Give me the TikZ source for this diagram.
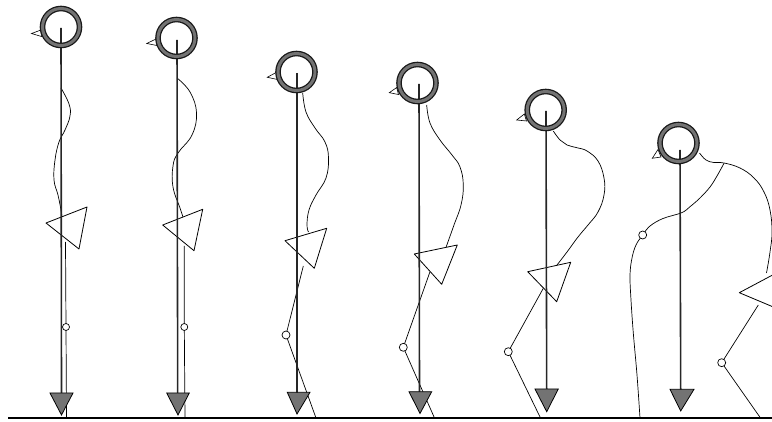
\documentclass[tikz,border=0pt]{standalone}
\usepackage{tikz}

\tikzset{
  gravity/.style={line width=1.6pt, black!85},
  body/.style={line width=0.7pt},
  pelvis/.style={draw, line width=0.8pt, fill=white, line join=round},
  weight/.style={draw, line width=0.8pt, fill=black!55},
  joint/.style={draw, line width=0.7pt, fill=white},
  nose/.style={draw, line width=0.6pt, fill=white},
  skull/.style={draw=black!90, double=black!55, double distance=3pt, line width=1.3pt},
}

\begin{document}
\begin{tikzpicture}[x=1pt, y=-1pt]
    \useasboundingbox (0,0) rectangle (772,422);
    \clip (0,0) rectangle (772,422);

    % Ground
    \draw[line width=1.6pt] (8,418) -- (772,418);

    % Posture 1: upright
    \draw[body] plot[smooth, tension=0.7] coordinates {(61,88) (69,104) (70,116) (65,130) (59,142) (55,160) (54,180) (58,195) (61,210) (62,217)};
    \draw[body] (65.5,242) -- (66,327) -- (66.5,418);
    \draw[pelvis] (46,223) -- (87,207) -- (79,249) -- cycle;
    \draw[joint] (66,327) circle (3.5pt);
    \draw[gravity] (61,28) -- (61.5,394);
    \draw[weight] (50,393) -- (73,393) -- (61.5,415) -- cycle;
    \draw[nose] (41,30) -- (31.5,33.5) -- (41.5,36.5) -- cycle;
    \draw[skull] (61,27) circle (18.5pt);

    % Posture 2
    \draw[body] plot[smooth, tension=0.7] coordinates {(177,78) (190,92) (196.5,113) (192,135) (178,153) (173,166) (173,187) (180,208) (183,217)};
    \draw[body] (184.3,246) -- (184.3,327) -- (185,418);
    \draw[pelvis] (162.7,225) -- (202.7,209.3) -- (194,250.7) -- cycle;
    \draw[joint] (184.3,327) circle (3.5pt);
    \draw[gravity] (177,40) -- (177.7,394);
    \draw[weight] (166.7,393) -- (189.3,393) -- (178,415) -- cycle;
    \draw[nose] (156,39) -- (146.7,43.5) -- (157,45.5) -- cycle;
    \draw[skull] (176.5,38) circle (18.5pt);

    % Posture 3
    \draw[body] plot[smooth, tension=0.7] coordinates {(302.7,93) (306,112) (315,128) (325,142) (328.5,158) (326,178) (316,195) (309,210) (307,225) (308.5,232)};
    \draw[body] (303.3,266) -- (286,335) -- (316,418);
    \draw[pelvis] (285,240.7) -- (326.7,228.3) -- (314.3,268.3) -- cycle;
    \draw[joint] (286,335) circle (4pt);
    \draw[gravity] (297,73) -- (297,393);
    \draw[weight] (287.3,392.3) -- (310,392.3) -- (297,414) -- cycle;
    \draw[nose] (277,72) -- (267.3,77.3) -- (277.5,79.5) -- cycle;
    \draw[skull] (296.5,72) circle (18.5pt);

    % Posture 4
    \draw[body] plot[smooth, tension=0.7] coordinates {(426.7,105) (430,123) (440,140) (452,155) (460,167) (463.3,185) (461,205) (454,225) (446,247.4)};
    \draw[body] (430,271.7) -- (403.3,347.3) -- (434.5,418);
    \draw[pelvis] (414.3,254) -- (457.3,245) -- (441.7,284.3) -- cycle;
    \draw[joint] (403.3,347.3) circle (4pt);
    \draw[gravity] (419,84) -- (419.5,393);
    \draw[weight] (409,391.7) -- (431.7,391.7) -- (420,413.5) -- cycle;
    \draw[nose] (396.7,87.5) -- (389.3,92.7) -- (398.5,94.5) -- cycle;
    \draw[skull] (417.5,83) circle (18.5pt);

    % Posture 5
    \draw[body] plot[smooth, tension=0.7] coordinates {(553.3,131) (560,140) (567,145) (578,148) (587,151) (598,161) (604,178) (604,195) (598,212) (588,225) (578,237) (567,252) (557,265)};
    \draw[body] (543.3,288.3) -- (508.3,351.7) -- (540.5,418);
    \draw[pelvis] (527.7,271.7) -- (570.7,262.3) -- (556.7,301.7) -- cycle;
    \draw[joint] (508.3,351.7) circle (4pt);
    \draw[gravity] (546,111) -- (546.7,390);
    \draw[weight] (535,389) -- (558.3,389) -- (546.7,411.7) -- cycle;
    \draw[nose] (524.3,114) -- (516.7,120) -- (526.5,121) -- cycle;
    \draw[skull] (545.7,110) circle (18.5pt);

    % Posture 6: bent forward
    \draw[body] plot[smooth, tension=0.7] coordinates {(699.5,153) (706,160) (714,162.5) (724,163) (740,168) (754,178) (764,192) (770,210) (772,232) (770,252) (766.5,273)};
    \draw[body] plot[smooth, tension=0.6] coordinates {(724,163.3) (717,176) (710,187) (700,198) (690,206.7) (681.7,212.7) (663,218.5) (650,226) (642.7,235) (636,245) (632,258) (630,275) (631,300) (633.3,333) (637,375) (640,418)};
    \draw[body] (758.3,305) -- (721.7,362.7) -- (760.5,418);
    \draw[pelvis] (739.3,292.7) -- (782,270) -- (790,314) -- cycle;
    \draw[joint] (642.7,235) circle (4pt);
    \draw[joint] (721.7,362.7) circle (4pt);
    \draw[gravity] (680,150) -- (680.7,390);
    \draw[weight] (670,389.3) -- (694,389.3) -- (680.7,411) -- cycle;
    \draw[nose] (658,149.5) -- (652.3,158.3) -- (661,157) -- cycle;
    \draw[skull] (678.5,143) circle (18.5pt);
\end{tikzpicture}
\end{document}
